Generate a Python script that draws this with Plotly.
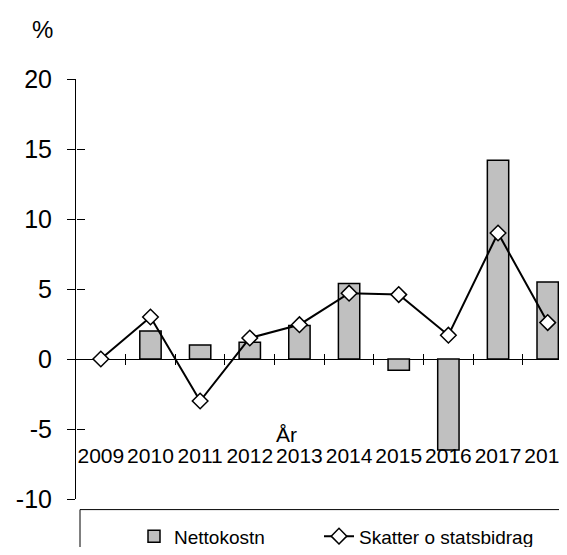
import plotly.graph_objects as go

years = [2009, 2010, 2011, 2012, 2013, 2014, 2015, 2016, 2017, 2018]
year_labels = [str(y) for y in years]
nettokostn = [None, 2.0, 1.0, 1.2, 2.4, 5.4, -0.8, -6.5, 14.2, 5.5]
skatter = [0.0, 3.0, -3.0, 1.5, 2.45, 4.7, 4.6, 1.7, 9.0, 2.6]
y_ticks = [-10, -5, 0, 5, 10, 15, 20]
y_tick_labels = [str(v) for v in y_ticks]

FONT = "Liberation Sans, Arial, sans-serif"
boundaries = [y + 0.5 for y in years[:-1]]

# page has an 8px body margin: figure is sized/offset so the plot lands where the reference has it
W, H = 559, 539
L, T = 68, 70.5
PW, PH = W - L, 420.2
B = H - T - PH
CAT_PX = 49.65  # width of one year slot in pixels
xr = [years[0] - 0.5, years[0] - 0.5 + PW / CAT_PX]
yr = [-10, 20]
zero_pos = (0 - yr[0]) / (yr[1] - yr[0])


def px(x_screen):
    return (x_screen - 8 - L) / PW


def py(y_screen):
    return (T + PH - (y_screen - 8)) / PH


fig = go.Figure()
fig.add_trace(go.Bar(
    x=years, y=nettokostn, name="Nettokostn", width=0.43, legendwidth=140,
    marker=dict(color="#C0C0C0", line=dict(color="black", width=1.5)),
))
fig.add_trace(go.Scatter(
    x=years, y=skatter, name="Skatter o statsbidrag", mode="lines+markers", legendwidth=230,
    line=dict(color="black", width=2),
    marker=dict(symbol="diamond", size=12, color="white", line=dict(color="black", width=1.5)),
))
# helper traces (draw nothing) so that the tick-only overlay axes are rendered
for xa, ya in [("x2", "y"), ("x3", "y"), ("x", "y2")]:
    fig.add_trace(go.Scatter(x=years, y=skatter, mode="none", xaxis=xa, yaxis=ya,
                             showlegend=False, hoverinfo="skip"))

fig.update_layout(
    width=W, height=H,
    margin=dict(l=L, r=0, t=T, b=B, autoexpand=False),
    plot_bgcolor="white", paper_bgcolor="white",
    font=dict(family=FONT, color="black"),
    showlegend=True,
    legend=dict(orientation="h", x=px(174) - 40 / PW, xanchor="left", y=py(536), yanchor="middle",
                font=dict(size=19, family=FONT), bgcolor="rgba(0,0,0,0)",
                traceorder="normal"),
    xaxis=dict(range=xr, anchor="free", position=0.137, tickvals=years, ticktext=year_labels,
               showline=False, showgrid=False, zeroline=False, ticks="",
               ticklabeloverflow="allow",
               tickfont=dict(size=21, family=FONT)),
    xaxis2=dict(range=xr, overlaying="x", anchor="free", position=zero_pos,
                tickvals=boundaries, ticks="outside", ticklen=5, tickcolor="black", tickwidth=1,
                showticklabels=False, showline=False, showgrid=False, zeroline=False),
    xaxis3=dict(range=xr, overlaying="x", anchor="free", position=zero_pos,
                tickvals=boundaries, ticks="inside", ticklen=5, tickcolor="black", tickwidth=1,
                showticklabels=False, showline=False, showgrid=False, zeroline=False),
    yaxis=dict(range=yr, tickvals=y_ticks, ticktext=y_tick_labels, ticks="outside", ticklen=8,
               tickcolor="black",
               showline=True, linecolor="black", linewidth=1, showgrid=False,
               zeroline=True, zerolinecolor="black", zerolinewidth=1,
               tickfont=dict(size=25, family=FONT), ticklabelstandoff=10),
    yaxis2=dict(range=yr, overlaying="y", anchor="free", position=0, side="left",
                tickvals=y_ticks, ticks="inside", ticklen=8, tickcolor="black",
                showticklabels=False, showline=False, showgrid=False, zeroline=False),
    annotations=[
        dict(text="%", xref="paper", yref="paper", x=px(42), y=py(29),
             showarrow=False, font=dict(size=24, family=FONT), xanchor="center", yanchor="middle"),
        dict(text="År", xref="paper", yref="paper", x=px(286), y=py(434),
             showarrow=False, font=dict(size=21, family=FONT), xanchor="center", yanchor="middle"),
    ],
    shapes=[
        dict(type="rect", xref="paper", yref="paper", x0=px(80), x1=1.3,
             y0=py(509.3), y1=-0.4, line=dict(color="black", width=1),
             fillcolor="rgba(0,0,0,0)", layer="above"),
    ],
)

fig.write_html("out.html")
